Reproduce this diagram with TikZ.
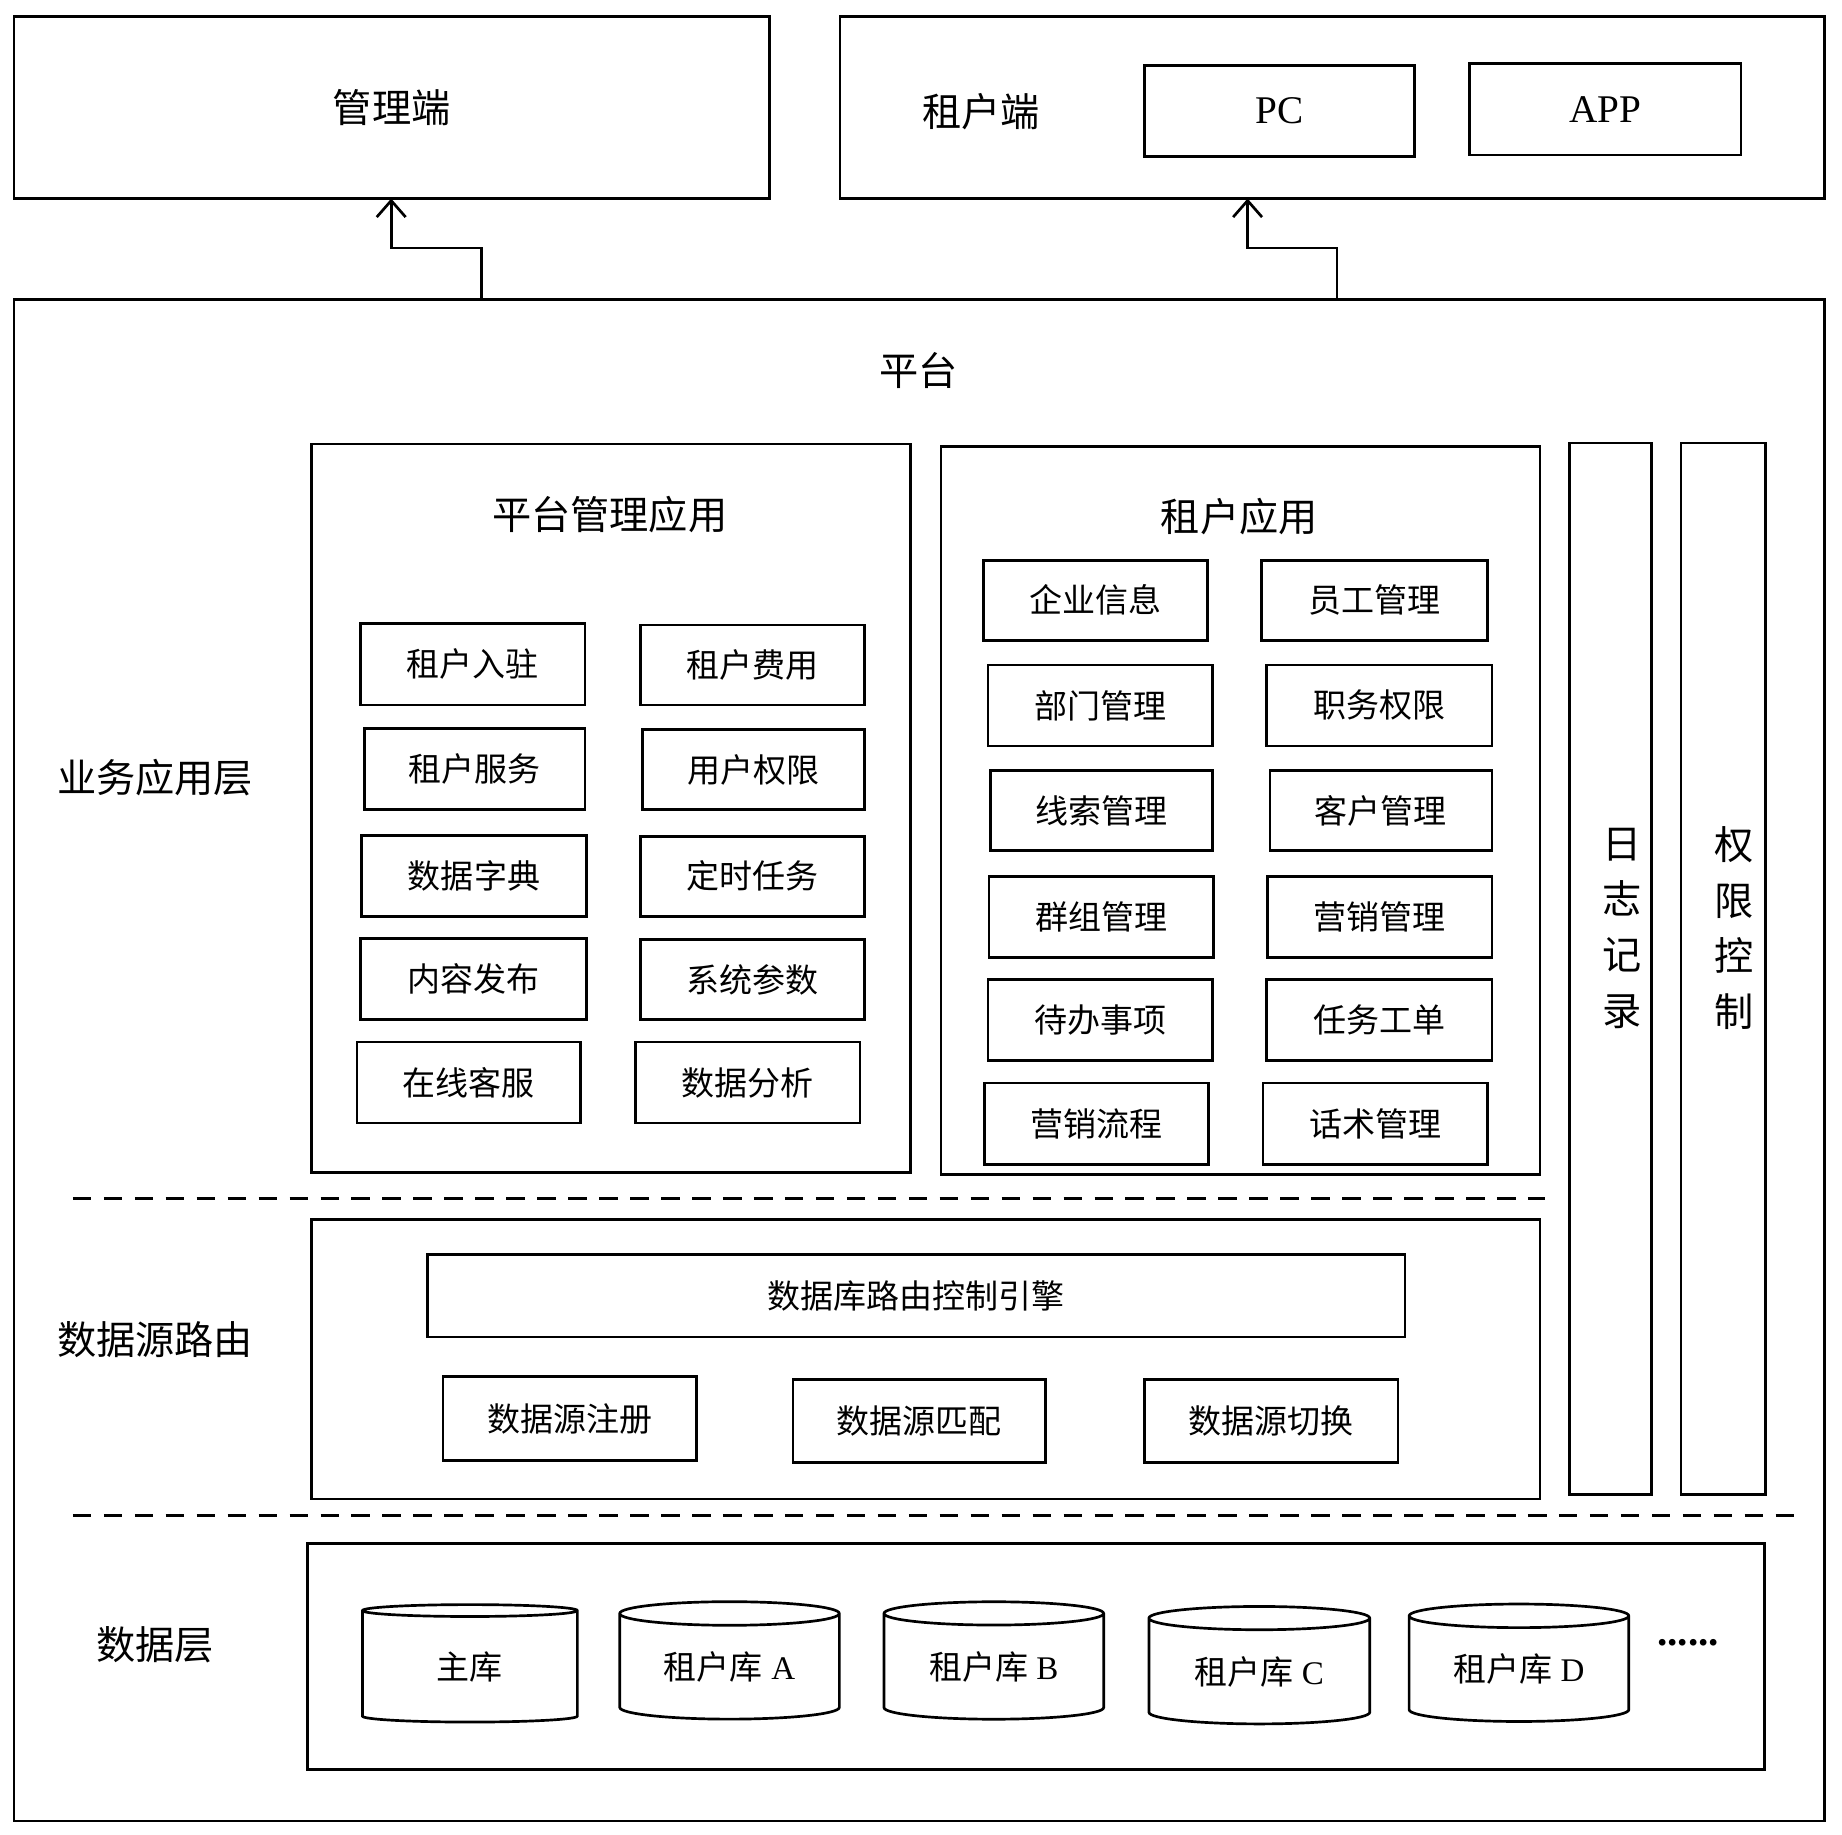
\documentclass[tikz,border=0pt]{standalone}
\usepackage{fontspec}
\setmainfont{Liberation Serif}
\newfontfamily\cjk{Noto Sans CJK SC}
\usetikzlibrary{fit,shapes.geometric,arrows.meta}
\tikzset{
 box/.style={draw,line width=1.3pt,inner sep=0pt},
 it/.style={font=\cjk\fontsize{16}{18}\selectfont},
 ttl/.style={font=\cjk\fontsize{19}{22}\selectfont},
 db/.style={draw,line width=1.3pt,cylinder,shape border rotate=90,aspect=0.18,minimum width=5.3cm,minimum height=2.0cm,inner sep=0pt,font=\fontsize{16}{18}\selectfont},
 dsh/.style={line width=1.3pt,dash pattern=on 9pt off 6pt},
 arr/.style={line width=1.3pt,-{Straight Barb[length=8pt,width=14pt,line width=1.3pt]}}
}
\newcommand{\bx}[7][it]{\node[box,fit={(#3,#4)(#5,#6)}] (#2) {}; \node[#1] (#2t) at (#2.center) {#7};}
\begin{document}
\begin{tikzpicture}[x=0.02cm,y=-0.02cm]
\useasboundingbox (0,0) rectangle (1568,1562);
\bx[ttl]{mgr}{12}{14}{655}{169}{管理端}
\bx{ten}{715}{14}{1553}{169}{}
\node[ttl] (tent) at (835,95) {租户端};
\bx[font=\fontsize{19}{22}\selectfont]{pc}{974}{56}{1204}{133}{PC}
\bx[font=\fontsize{19}{22}\selectfont]{app}{1251}{54}{1482}{132}{APP}
\bx{plat}{12}{255}{1553}{1550}{}
\node[ttl] (pt) at (782,315) {平台};
\coordinate (a1) at (410,255); \coordinate (a2) at (333,169);
\coordinate (b1) at (1138,255); \coordinate (b2) at (1062,169);
\draw[arr] (a1) |- (371,211) -| (a2);
\draw[arr] (b1) |- (1100,211) -| (b2);
\bx{pm}{265}{378}{775}{998}{}
\node[ttl] (pmt) at (519,438) {平台管理应用};
\bx{ta}{801}{380}{1311}{1000}{}
\node[ttl] (tat) at (1055,440) {租户应用};
\bx[align=center,font=\cjk\fontsize{19}{27}\selectfont]{log}{1336}{377}{1406}{1272}{}
\node[align=center,font=\cjk\fontsize{19}{27}\selectfont] (logt) at (1381,790) {日\\志\\记\\录};
\bx{perm}{1431}{377}{1503}{1272}{}
\node[align=center,font=\cjk\fontsize{19}{27}\selectfont] (permt) at (1476,790) {权\\限\\控\\制};
\bx{l1}{307}{531}{498}{600}{租户入驻}
\bx{r1}{545}{532}{736}{600}{租户费用}
\bx{l2}{310}{620}{498}{689}{租户服务}
\bx{r2}{547}{621}{736}{689}{用户权限}
\bx{l3}{308}{711}{499}{780}{数据字典}
\bx{r3}{545}{712}{736}{780}{定时任务}
\bx{l4}{307}{799}{499}{868}{内容发布}
\bx{r4}{545}{800}{736}{868}{系统参数}
\bx{l5}{304}{887}{494}{956}{在线客服}
\bx{r5}{541}{887}{732}{956}{数据分析}
\bx{t1}{837}{477}{1028}{545}{企业信息}
\bx{u1}{1074}{477}{1266}{545}{员工管理}
\bx{t2}{841}{566}{1032}{635}{部门管理}
\bx{u2}{1078}{566}{1270}{635}{职务权限}
\bx{t3}{843}{656}{1032}{724}{线索管理}
\bx{u3}{1081}{656}{1270}{724}{客户管理}
\bx{t4}{842}{746}{1033}{815}{群组管理}
\bx{u4}{1079}{746}{1270}{815}{营销管理}
\bx{t5}{841}{834}{1032}{903}{待办事项}
\bx{u5}{1078}{834}{1270}{903}{任务工单}
\bx{t6}{838}{922}{1029}{991}{营销流程}
\bx{u6}{1075}{922}{1266}{991}{话术管理}
\coordinate (d1a) at (62,1020); \coordinate (d1b) at (1315,1020);
\coordinate (d2a) at (62,1290); \coordinate (d2b) at (1535,1290);
\draw[dsh] (d1a) -- (d1b);
\draw[dsh] (d2a) -- (d2b);
\node[ttl] (lay1) at (132,662) {业务应用层};
\node[ttl] (lay2) at (132,1140) {数据源路由};
\node[ttl] (lay3) at (132,1400) {数据层};
\bx{rt}{265}{1038}{1311}{1276}{}
\bx{eng}{364}{1068}{1196}{1138}{数据库路由控制引擎}
\bx{s1}{377}{1172}{593}{1243}{数据源注册}
\bx{s2}{675}{1174}{890}{1245}{数据源匹配}
\bx{s3}{974}{1174}{1190}{1245}{数据源切换}
\bx{dl}{262}{1314}{1502}{1506}{}
\node[db,minimum width=3.66cm] (c0) at (400,1419) {{\cjk 主库}};
\node[db,minimum width=3.74cm] (c1) at (621,1419) {{\cjk 租户库} A};
\node[db,minimum width=3.74cm] (c2) at (846,1419) {{\cjk 租户库} B};
\node[db,minimum width=3.76cm] (c3) at (1072,1423) {{\cjk 租户库} C};
\node[db,minimum width=3.74cm] (c4) at (1293,1421) {{\cjk 租户库} D};
\node[font=\bfseries\fontsize{20}{22}\selectfont] (dots) at (1437,1398) {......};
\end{tikzpicture}
\end{document}
